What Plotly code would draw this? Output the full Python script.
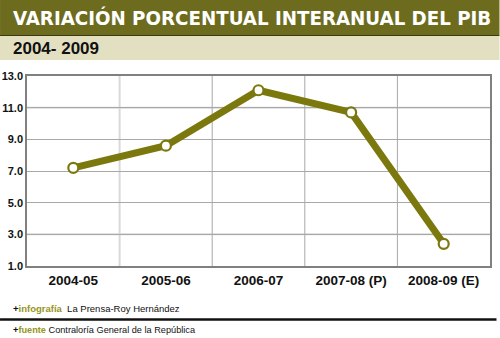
import plotly.graph_objects as go

# ---- data ----
categories = ["2004-05", "2005-06", "2006-07", "2007-08 (P)", "2008-09 (E)"]
pib_variation = [7.2, 8.6, 12.1, 10.7, 2.4]
y_tick_values = [1, 3, 5, 7, 9, 11, 13]
y_tick_labels = ["1.0", "3.0", "5.0", "7.0", "9.0", "11.0", "13.0"]

title_text = "VARIACIÓN PORCENTUAL INTERANUAL DEL PIB"
subtitle_text = "2004- 2009"
credit_label = "infografía"
credit_text = "La Prensa-Roy Hernández"
source_label = "fuente"
source_text = "Contraloría General de la República"

# ---- layout geometry (pixels) ----
W, H = 500, 338
L, R, T, B = 27, 490.5, 76, 266
OLIVE_LINE = "#7b790e"
OLIVE_BAR = "#6d6b1d"
BEIGE = "#e3e0c1"
OLIVE_TEXT = "#97951c"


def px_x(x):
    return (x - L) / (R - L)


def px_y(y):
    return (B - y) / (B - T)


fig = go.Figure()
fig.add_trace(go.Scatter(
    x=categories, y=pib_variation, mode="lines+markers",
    line=dict(color=OLIVE_LINE, width=7),
    marker=dict(size=10, color="white", line=dict(color=OLIVE_LINE, width=2.2)),
    hoverinfo="x+y", showlegend=False,
))

shapes = [
    # title bar
    dict(type="rect", xref="paper", yref="paper", x0=px_x(0), x1=px_x(W),
         y0=px_y(35), y1=px_y(-2), fillcolor=OLIVE_BAR, line=dict(width=0), layer="below"),
    dict(type="line", xref="paper", yref="paper", x0=px_x(0), x1=px_x(W),
         y0=px_y(35.5), y1=px_y(35.5), line=dict(color="#3a3a10", width=1)),
    # subtitle band
    dict(type="rect", xref="paper", yref="paper", x0=px_x(0), x1=px_x(W),
         y0=px_y(60), y1=px_y(36), fillcolor=BEIGE, line=dict(width=0), layer="below"),
    # lighter gridlines
    dict(type="line", xref="paper", yref="y", x0=0, x1=1, y0=11, y1=11,
         line=dict(color="#d9d9d9", width=2), layer="below"),
    dict(type="line", xref="paper", yref="y", x0=0, x1=1, y0=3, y1=3,
         line=dict(color="#d9d9d9", width=2), layer="below"),
    dict(type="line", xref="x", yref="paper", x0=0.5, x1=0.5, y0=0, y1=1,
         line=dict(color="#d9d9d9", width=2), layer="below"),
    # footer separator
    dict(type="line", xref="paper", yref="paper", x0=px_x(0), x1=px_x(497),
         y0=px_y(319.5), y1=px_y(319.5), line=dict(color="#111111", width=2.5)),
]

annotations = [
    dict(text="<b>" + title_text + "</b>", x=px_x(11), y=px_y(18), xref="paper", yref="paper",
         xanchor="left", yanchor="middle", showarrow=False,
         font=dict(family="DejaVu Sans Condensed, DejaVu Sans", size=20.3, color="white")),
    dict(text="<b>" + subtitle_text + "</b>", x=px_x(11), y=px_y(48), xref="paper", yref="paper",
         xanchor="left", yanchor="middle", showarrow=False,
         font=dict(family="Liberation Sans, Arial", size=17, color="#111111")),
    dict(text="<b>+</b><b><span style='color:" + OLIVE_TEXT + "'>" + credit_label + "</span></b>  " + credit_text,
         x=px_x(11), y=px_y(308), xref="paper", yref="paper",
         xanchor="left", yanchor="middle", showarrow=False,
         font=dict(family="Liberation Sans, Arial", size=9.5, color="#111111")),
    dict(text="<b>+</b><b><span style='color:" + OLIVE_TEXT + "'>" + source_label + "</span></b> " + source_text,
         x=px_x(11), y=px_y(330), xref="paper", yref="paper",
         xanchor="left", yanchor="middle", showarrow=False,
         font=dict(family="Liberation Sans, Arial", size=9.2, color="#111111")),
]

fig.update_layout(
    width=W, height=H,
    margin=dict(l=L, r=W - R, t=T, b=H - B, pad=0, autoexpand=False),
    paper_bgcolor="white", plot_bgcolor="white",
    shapes=shapes, annotations=annotations,
    xaxis=dict(
        type="category", range=[-0.5, 4.5], automargin=False,
        showgrid=False, zeroline=False,
        showline=True, linecolor="#808080", linewidth=1.5, mirror=True,
        ticks="outside", ticklen=1, tickcolor="rgba(0,0,0,0)",
        tickfont=dict(family="Liberation Sans, Arial", size=13.5, color="#111111", weight=600),
    ),
    yaxis=dict(
        range=[1, 13], tickvals=y_tick_values, ticktext=y_tick_labels, automargin=False,
        showgrid=True, gridcolor="#a8a8a8", gridwidth=1, zeroline=False,
        showline=True, linecolor="#808080", linewidth=1.5, mirror=True,
        ticks="",
        tickfont=dict(family="Liberation Sans, Arial", size=11, color="#111111", weight="bold"),
    ),
)

# vertical separators between categories (first one drawn lighter above)
for i in range(2, len(categories)):
    fig.add_shape(type="line", xref="x", yref="paper", x0=i - 0.5, x1=i - 0.5, y0=0, y1=1,
                  line=dict(color="#a8a8a8", width=1), layer="below")

fig.write_html("out.html")
